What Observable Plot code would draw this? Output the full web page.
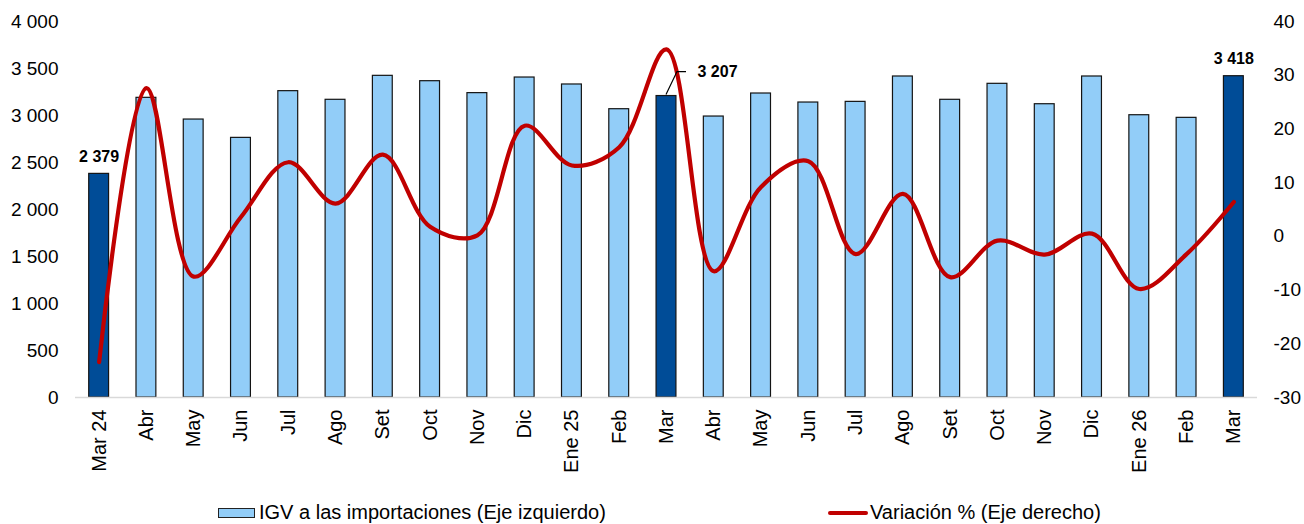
<!DOCTYPE html>
<html>
<head>
<meta charset="utf-8">
<script src="https://cdn.jsdelivr.net/npm/d3@7"></script>
<script src="https://cdn.jsdelivr.net/npm/@observablehq/plot@0.6"></script>
<style>
  html, body { margin: 0; padding: 0; background: #fff; }
  body { width: 1304px; height: 524px; overflow: hidden; font-family: "Liberation Sans", Arial, sans-serif; }
  #chart { position: relative; }
  #legend { position: relative; height: 47px; font-size: 20px; color: #000; }
  .lg { position: absolute; top: 24px; display: flex; align-items: center; white-space: nowrap; }
  .box { width: 35px; height: 8px; background: #92CDF8; border: 1px solid #222; margin-right: 4px; }
  .ln { width: 40px; height: 4px; background: #C00000; border-radius: 2px; margin-right: 2px; }
</style>
</head>
<body>
<div id="chart"></div>
<div id="legend">
  <div class="lg" style="left:218px"><span class="box"></span><span>IGV a las importaciones (Eje izquierdo)</span></div>
  <div class="lg" style="left:828px"><span class="ln"></span><span>Variación % (Eje derecho)</span></div>
</div>
<script>
const months = ["Mar 24","Abr","May","Jun","Jul","Ago","Set","Oct","Nov","Dic","Ene 25","Feb","Mar","Abr","May","Jun","Jul","Ago","Set","Oct","Nov","Dic","Ene 26","Feb","Mar"];
const igv = [2379,3188,2957,2762,3259,3167,3422,3365,3238,3404,3330,3067,3207,2989,3234,3138,3145,3415,3167,3337,3120,3415,3003,2975,3418];
const variacion = [-23.4,27.6,-7.5,3.6,13.8,6.1,15.2,1.8,0.2,20.6,13.2,16.6,34.8,-6.5,9.2,14.0,-3.3,7.9,-7.6,-0.8,-3.4,0.5,-9.8,-3.3,6.4];
const highlighted = [0,12,24];
const leftTicks = [0,500,1000,1500,2000,2500,3000,3500,4000];
const rightTicks = [-30,-20,-10,0,10,20,30,40];

const leftMax = 4000, rMin = -30, rMax = 40;
const toLeft = v => (v - rMin) / (rMax - rMin) * leftMax;
const fromLeft = d => Math.round(d / leftMax * (rMax - rMin) + rMin);
const fmt = d => d3.format(",")(d).replace(/,/g, " ");

const data = months.map((m, i) => ({i, m, igv: igv[i], v: variacion[i], yv: toLeft(variacion[i]), hi: highlighted.includes(i)}));
const labels = data.filter(d => d.hi);

const plot = Plot.plot({
  width: 1304,
  height: 477,
  marginLeft: 75,
  marginRight: 47,
  marginTop: 21,
  marginBottom: 80,
  style: {fontFamily: "'Liberation Sans', Arial, sans-serif", fontSize: "19px", color: "#000", background: "#fff", overflow: "visible"},
  x: {type: "band", domain: d3.range(months.length), paddingInner: 0.58, paddingOuter: 0.29, round: false},
  y: {domain: [0, leftMax]},
  marks: [
    Plot.axisY({ticks: leftTicks, tickFormat: fmt, tickSize: 0, tickPadding: 17, label: null, fontSize: 19}),
    Plot.axisY({anchor: "right", ticks: rightTicks.map(toLeft), tickFormat: fromLeft, tickSize: 0, tickPadding: 16, label: null, fontSize: 19}),
    Plot.axisX({tickFormat: i => months[i], tickSize: 0, tickRotate: -90, tickPadding: 12, label: null, fontSize: 20}),
    Plot.barY(data, {x: "i", y: "igv", fill: d => d.hi ? "#004C97" : "#92CDF8", stroke: "#141414", strokeWidth: 1.2}),
    Plot.ruleY([0], {stroke: "#d9d9d9", strokeWidth: 1.5}),
    Plot.line(data, {x: "i", y: "yv", stroke: "#C00000", strokeWidth: 4.2, curve: "catmull-rom"}),
    Plot.text(labels.filter(d => d.i !== 12), {x: "i", y: "igv", text: d => fmt(d.igv), dy: -17, fontWeight: "bold", fontSize: 16, fill: "#000"}),
    Plot.text(labels.filter(d => d.i === 12), {x: "i", y: "igv", text: d => fmt(d.igv), dx: 51, dy: -24, fontWeight: "bold", fontSize: 16, fill: "#000"})
  ]
});
document.getElementById("chart").appendChild(plot);

// leader line for the middle label
const xs = plot.scale("x"), ys = plot.scale("y");
const svg = d3.select(plot);
const cx = xs.apply(12) + xs.bandwidth / 2, cy = ys.apply(igv[12]);
svg.append("path")
  .attr("d", `M${cx},${cy - 1}L${cx + 11},${cy - 24}L${cx + 20},${cy - 24}`)
  .attr("fill", "none").attr("stroke", "#000").attr("stroke-width", 1.2);
</script>
</body>
</html>
